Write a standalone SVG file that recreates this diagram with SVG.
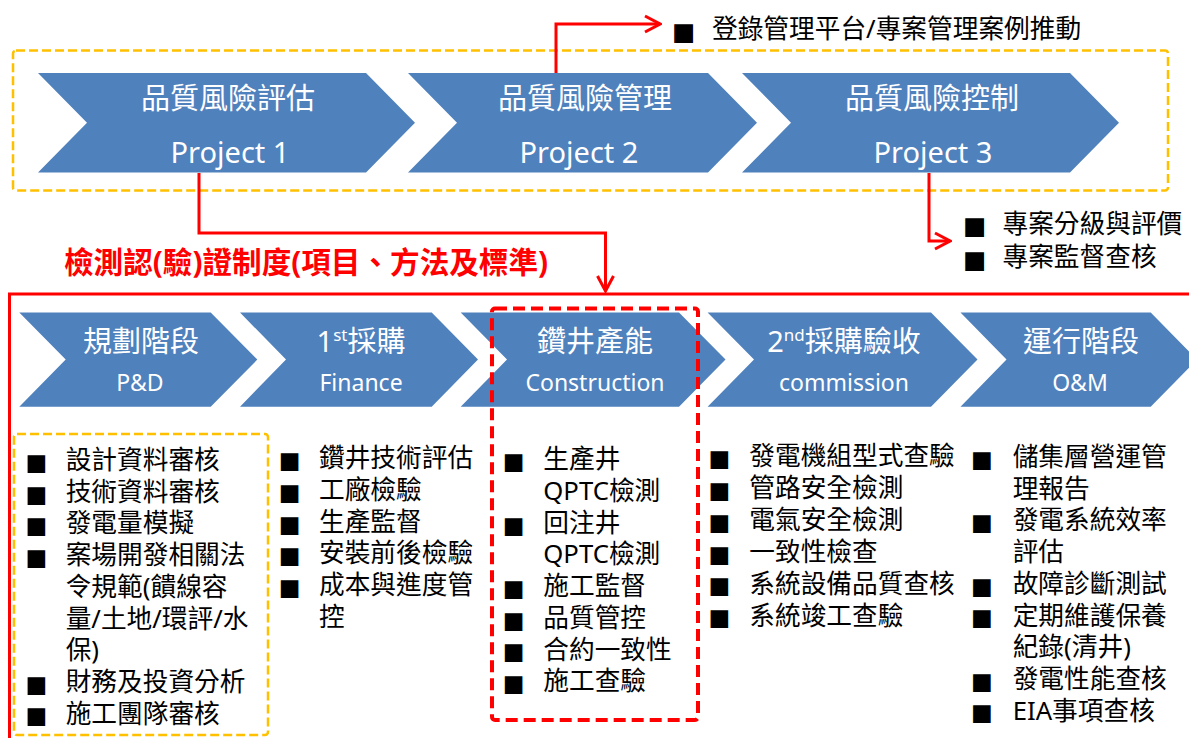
<svg xmlns="http://www.w3.org/2000/svg" width="1189" height="738" viewBox="0 0 1189 738">
<style>
.chev{fill:#4F81BD;}
.ct{font-family:"Noto Sans","Noto Sans CJK TC",sans-serif;fill:#FFFFFF;text-anchor:middle;}
.cj{font-size:29px;}
.la{font-size:29px;}
.lb{font-size:23px;}
.t{font-family:"Noto Sans","Noto Sans CJK TC",sans-serif;font-size:25.7px;fill:#000000;}
.b{font-family:"DejaVu Sans",sans-serif;font-size:23px;fill:#000000;}
.bt{font-family:"DejaVu Sans",sans-serif;font-size:24.6px;fill:#000000;}
.conn{fill:none;stroke:#FF0000;stroke-width:3;}
.odash{fill:none;stroke:#FFC000;stroke-width:2.5;stroke-dasharray:9 4;}
.rdash{fill:none;stroke:#FF0000;stroke-width:4;stroke-dasharray:12 6;}
.title{font-family:"Noto Sans","Noto Sans CJK TC",sans-serif;font-size:29.6px;font-weight:bold;fill:#FF0000;}
</style>
<defs>
<marker id="arr" markerUnits="userSpaceOnUse" viewBox="-18 -11 20 22" markerWidth="20" markerHeight="22" refX="0" refY="0" orient="auto">
<path d="M-15,-8 L0,0 L-15,8" fill="none" stroke="#FF0000" stroke-width="3"/>
</marker>
</defs>

<g id="frame-top">
<rect class="odash" x="13" y="50.5" width="1155" height="140" rx="3"/>
</g>
<g id="frame-bottom">
<rect x="9.5" y="294" width="1200" height="470" fill="none" stroke="#FF0000" stroke-width="3"/>
</g>

<g id="p1">
<polygon class="chev" points="38,73 366,73 415,122.7 366,172.5 38,172.5 87,122.7"/>
<text class="ct cj" x="228" y="109">品質風險評估</text>
<text class="ct la" x="230" y="163">Project 1</text>
</g>
<g id="p2">
<polygon class="chev" points="408,73 708,73 757,122.7 708,172.5 408,172.5 457,122.7"/>
<text class="ct cj" x="585" y="109">品質風險管理</text>
<text class="ct la" x="579" y="163">Project 2</text>
</g>
<g id="p3">
<polygon class="chev" points="742,73 1070,73 1119,122.7 1070,172.5 742,172.5 791,122.7"/>
<text class="ct cj" x="932" y="109">品質風險控制</text>
<text class="ct la" x="933" y="163">Project 3</text>
</g>

<g id="note-top">
<text class="bt" x="672" y="39.6">■</text>
<text class="t" x="712" y="37.5" font-size="25.7px">登錄管理平台/專案管理案例推動</text>
</g>
<g id="note-right">
<text class="bt" x="963" y="234">■</text>
<text class="t" x="1002.5" y="232.5" font-size="25.5px">專案分級與評價</text>
<text class="bt" x="963" y="267.6">■</text>
<text class="t" x="1002.5" y="266" font-size="25.5px">專案監督查核</text>
</g>

<g id="title">
<text class="title" x="64" y="273">檢測認(驗)證制度(項目、方法及標準)</text>
</g>

<g id="connectors">
<path class="conn" d="M556,73 V24 H660" marker-end="url(#arr)"/>
<path class="conn" d="M199,173 V233 H605.5 V291" marker-end="url(#arr)"/>
<path class="conn" d="M929,173 V241 H950" marker-end="url(#arr)"/>
</g>

<g id="s1">
<polygon class="chev" points="19.3,312.5 210.7,312.5 257.3,359.6 210.7,406.7 19.3,406.7 65.7,359.6"/>
<text class="ct cj" x="141" y="351.5">規劃階段</text>
<text class="ct lb" x="140" y="391">P&amp;D</text>
</g>
<g id="s2">
<polygon class="chev" points="240,312.5 431.7,312.5 478,359.6 431.7,406.7 240,406.7 286,359.6"/>
<text class="ct cj" x="361" y="351.5">1<tspan font-size="17px" dy="-11">st</tspan><tspan dy="11">採購</tspan></text>
<text class="ct lb" x="361" y="391">Finance</text>
</g>
<g id="s3">
<polygon class="chev" points="460.7,312.5 679,312.5 725.5,359.6 679,406.7 460.7,406.7 507,359.6"/>
<text class="ct cj" x="595" y="351.5">鑽井產能</text>
<text class="ct lb" x="595" y="391">Construction</text>
</g>
<g id="s4">
<polygon class="chev" points="707.6,312.5 931,312.5 977.5,359.6 931,406.7 707.6,406.7 754,359.6"/>
<text class="ct cj" x="844" y="351.5">2<tspan font-size="17px" dy="-11">nd</tspan><tspan dy="11">採購驗收</tspan></text>
<text class="ct lb" x="844" y="391">commission</text>
</g>
<g id="s5">
<polygon class="chev" points="960.5,312.5 1150.7,312.5 1197,359.6 1150.7,406.7 960.5,406.7 1006.5,359.6"/>
<text class="ct cj" x="1081" y="351.5">運行階段</text>
<text class="ct lb" x="1080" y="391">O&amp;M</text>
</g>

<g id="list1">
<rect class="odash" x="14" y="434" width="254" height="301" rx="3"/>
<text class="b" x="25.4" y="469.8">■</text><text class="t" x="65.7" y="469">設計資料審核</text>
<text class="b" x="25.4" y="501.5">■</text><text class="t" x="65.7" y="500.7">技術資料審核</text>
<text class="b" x="25.4" y="533.2">■</text><text class="t" x="65.7" y="532.4">發電量模擬</text>
<text class="b" x="25.4" y="564.9">■</text><text class="t" x="65.7" y="564.1">案場開發相關法</text>
<text class="t" x="65.7" y="595.8">令規範(饋線容</text>
<text class="t" x="65.7" y="627.5">量/土地/環評/水</text>
<text class="t" x="65.7" y="659.2">保)</text>
<text class="b" x="25.4" y="691.7">■</text><text class="t" x="65.7" y="690.9">財務及投資分析</text>
<text class="b" x="25.4" y="723.4">■</text><text class="t" x="65.7" y="722.6">施工團隊審核</text>
</g>

<g id="list2">
<text class="b" x="278.8" y="468.1">■</text><text class="t" x="319" y="467.3">鑽井技術評估</text>
<text class="b" x="278.8" y="499.8">■</text><text class="t" x="319" y="499">工廠檢驗</text>
<text class="b" x="278.8" y="531.5">■</text><text class="t" x="319" y="530.7">生產監督</text>
<text class="b" x="278.8" y="563.2">■</text><text class="t" x="319" y="562.4">安裝前後檢驗</text>
<text class="b" x="278.8" y="594.9">■</text><text class="t" x="319" y="594.1">成本與進度管</text>
<text class="t" x="319" y="625.8">控</text>
</g>

<g id="list3">
<rect class="rdash" x="492" y="308.5" width="206" height="411.5" rx="3"/>
<text class="b" x="502.8" y="469.1">■</text><text class="t" x="543.3" y="468.3">生產井</text>
<text class="t" x="543.3" y="500">QPTC檢測</text>
<text class="b" x="502.8" y="532.5">■</text><text class="t" x="543.3" y="531.7">回注井</text>
<text class="t" x="543.3" y="563.4">QPTC檢測</text>
<text class="b" x="502.8" y="595.9">■</text><text class="t" x="543.3" y="595.1">施工監督</text>
<text class="b" x="502.8" y="627.6">■</text><text class="t" x="543.3" y="626.8">品質管控</text>
<text class="b" x="502.8" y="659.3">■</text><text class="t" x="543.3" y="658.5">合約一致性</text>
<text class="b" x="502.8" y="691">■</text><text class="t" x="543.3" y="690.2">施工查驗</text>
</g>

<g id="list4">
<text class="b" x="708.4" y="465.8">■</text><text class="t" x="749.3" y="465">發電機組型式查驗</text>
<text class="b" x="708.4" y="497.7">■</text><text class="t" x="749.3" y="496.9">管路安全檢測</text>
<text class="b" x="708.4" y="529.6">■</text><text class="t" x="749.3" y="528.8">電氣安全檢測</text>
<text class="b" x="708.4" y="561.5">■</text><text class="t" x="749.3" y="560.7">一致性檢查</text>
<text class="b" x="708.4" y="593.4">■</text><text class="t" x="749.3" y="592.6">系統設備品質查核</text>
<text class="b" x="708.4" y="625.3">■</text><text class="t" x="749.3" y="624.5">系統竣工查驗</text>
</g>

<g id="list5">
<text class="b" x="971" y="466.8">■</text><text class="t" x="1012.7" y="466">儲集層營運管</text>
<text class="t" x="1012.7" y="497.7">理報告</text>
<text class="b" x="971" y="530.2">■</text><text class="t" x="1012.7" y="529.4">發電系統效率</text>
<text class="t" x="1012.7" y="561.1">評估</text>
<text class="b" x="971" y="593.6">■</text><text class="t" x="1012.7" y="592.8">故障診斷測試</text>
<text class="b" x="971" y="625.3">■</text><text class="t" x="1012.7" y="624.5">定期維護保養</text>
<text class="t" x="1012.7" y="656.2">紀錄(清井)</text>
<text class="b" x="971" y="688.7">■</text><text class="t" x="1012.7" y="687.9">發電性能查核</text>
<text class="b" x="971" y="720.4">■</text><text class="t" x="1012.7" y="719.6">EIA事項查核</text>
</g>
</svg>
